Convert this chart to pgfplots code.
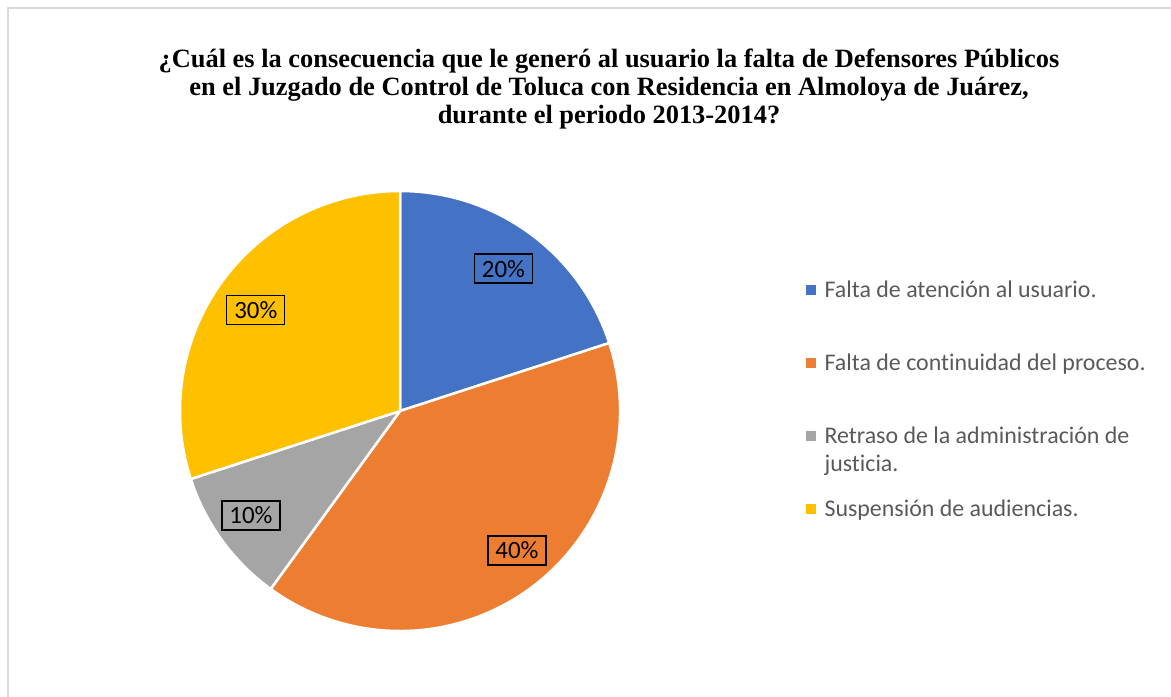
\documentclass[border=0pt]{standalone}
\usepackage{fontspec}
\setmainfont{Liberation Serif}
\newfontfamily\calibri[Ligatures=NoCommon]{Carlito}
\usepackage{pgfplots}
\pgfplotsset{compat=1.18}
\usetikzlibrary{calc}
\definecolor{pieblue}{HTML}{4472C4}
\definecolor{pieorange}{HTML}{ED7D31}
\definecolor{piegray}{HTML}{A5A5A5}
\definecolor{pieyellow}{HTML}{FFC000}
\definecolor{legtext}{HTML}{595959}
\definecolor{framegray}{HTML}{D9D9D9}
\def\R{220bp}
\begin{document}
\begin{tikzpicture}
\begin{axis}[
  width=1171bp, height=696bp, scale only axis,
  xmin=0, xmax=1171, ymin=0, ymax=696, y dir=reverse,
  hide axis, clip=false,
  legend style={at={(0.6857,0.602)}, anchor=north west, draw=none, fill=none,
    font=\calibri\fontsize{24}{28}\selectfont, text=legtext,
    row sep=49bp, column sep=9bp,
    nodes={text height=18bp, text depth=6bp, inner sep=0pt}},
  legend cell align=left,
  legend image code/.code={\fill[#1] (0bp,-3bp) rectangle (9bp,6bp);},
]
% frame
\draw[framegray, line width=1.5bp] (axis cs:8,8) rectangle (axis cs:1200,720);
% slices: 20, 40, 10, 30 (%), clockwise from the top
\fill[pieblue, draw=white, line width=2.5bp] (axis cs:400,411) -- ++(90:\R)
  arc[start angle=90, end angle=90-3.6*20, radius=\R] -- cycle;
\fill[pieorange, draw=white, line width=2.5bp] (axis cs:400,411) -- ++(90-3.6*20:\R)
  arc[start angle=90-3.6*20, end angle=90-3.6*60, radius=\R] -- cycle;
\fill[piegray, draw=white, line width=2.5bp] (axis cs:400,411) -- ++(90-3.6*60:\R)
  arc[start angle=90-3.6*60, end angle=90-3.6*70, radius=\R] -- cycle;
\fill[pieyellow, draw=white, line width=2.5bp] (axis cs:400,411) -- ++(90-3.6*70:\R)
  arc[start angle=90-3.6*70, end angle=90-3.6*100, radius=\R] -- cycle;
% data labels
\tikzset{lbl/.style={draw=black, line width=1.3bp, minimum width=58bp, minimum height=29bp,
  inner sep=0pt, font=\calibri\fontsize{25}{28}\selectfont}}
\node[lbl] at ($(axis cs:400,411)+(54:176bp)$) {20\%};
\node[lbl] at ($(axis cs:400,411)+(-50:182bp)$) {40\%};
\node[lbl] at ($(axis cs:400,411)+(-145:182bp)$) {10\%};
\node[lbl] at ($(axis cs:400,411)+(145:176bp)$) {30\%};
% title
\node[anchor=base, align=center, font=\bfseries\fontsize{26.5}{28}\selectfont]
  at (axis cs:609,123) {¿Cuál es la consecuencia que le generó al usuario la falta de Defensores Públicos\\
  en el Juzgado de Control de Toluca con Residencia en Almoloya de Juárez,\\
  durante el periodo 2013-2014?};
% legend
\addlegendimage{pieblue}
\addlegendentry{Falta de atención al usuario.}
\addlegendimage{pieorange}
\addlegendentry{Falta de continuidad del proceso.}
\addlegendimage{piegray}
\addlegendentry{\parbox[t]{360bp}{Retraso de la administración de\\justicia.}}
\addlegendimage{pieyellow}
\addlegendentry{Suspensión de audiencias.}
\end{axis}
\pgfresetboundingbox
\path (current axis.south west) rectangle (current axis.north east);
\end{tikzpicture}
\end{document}
